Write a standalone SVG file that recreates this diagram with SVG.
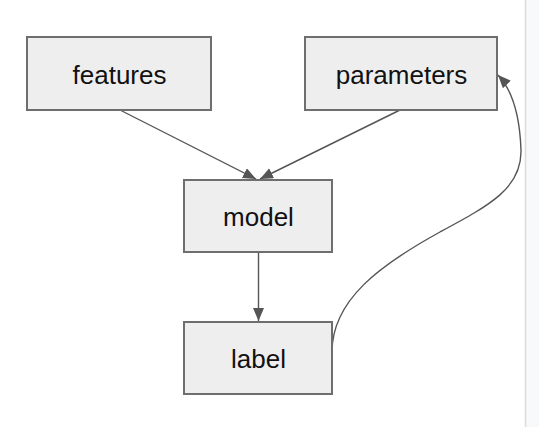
<svg xmlns="http://www.w3.org/2000/svg" width="539" height="427" viewBox="0 0 539 427">
<style>
.box{fill:#eeeeee;stroke:#6e6e6e;stroke-width:2}
.lbl{font-family:"Liberation Sans",Arial,sans-serif;font-size:26px;fill:#111;text-anchor:middle}
.edge{fill:none;stroke:#555;stroke-width:1.4}
</style>
<defs>
<marker id="arr" markerUnits="userSpaceOnUse" markerWidth="14" markerHeight="12" refX="13" refY="5.5" orient="auto">
<path d="M0,0 L13,5.5 L0,11 z" fill="#555"/>
</marker>
</defs>
<rect x="0" y="0" width="539" height="427" fill="#ffffff"/>
<rect x="525" y="0" width="14" height="427" fill="#f8f9fa"/>
<line x1="525.5" y1="0" x2="525.5" y2="427" stroke="#dcdcdc" stroke-width="1.5"/>
<g id="connectors">
<path class="edge" d="M120,110 L256,179" marker-end="url(#arr)"/>
<path class="edge" d="M400,110 L260,179" marker-end="url(#arr)"/>
<path class="edge" d="M258.5,252 L258.5,321" marker-end="url(#arr)"/>
<path class="edge" d="M332,352 C332,300 380,265 440,232 C490,205 522,188 521,150 C520,122 514,92 498,75" marker-end="url(#arr)"/>
</g>
<g id="features">
<rect class="box" x="27" y="37" width="184" height="73"/>
<text class="lbl" x="119.5" y="83.5">features</text>
</g>
<g id="parameters">
<rect class="box" x="305" y="37" width="192" height="73"/>
<text class="lbl" x="401.5" y="83.5">parameters</text>
</g>
<g id="model">
<rect class="box" x="184" y="180" width="148" height="72"/>
<text class="lbl" x="258.5" y="226">model</text>
</g>
<g id="label">
<rect class="box" x="184" y="322" width="148" height="72"/>
<text class="lbl" x="258.5" y="368">label</text>
</g>
</svg>
